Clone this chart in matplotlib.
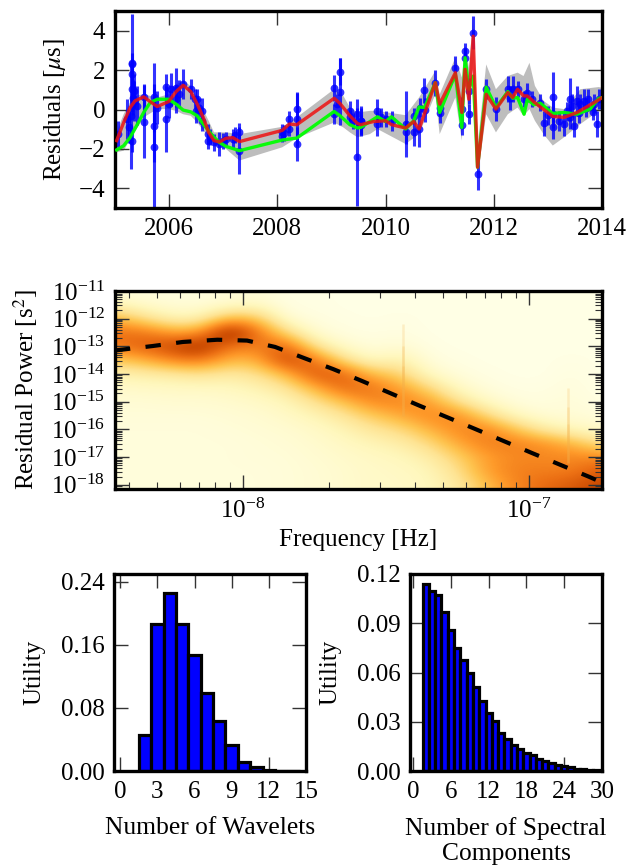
import numpy as np
import matplotlib
matplotlib.use('Agg')
import matplotlib.pyplot as plt
from matplotlib import ticker

plt.rcParams['font.family'] = ['Liberation Serif', 'DejaVu Serif']
plt.rcParams['mathtext.fontset'] = 'stix'
plt.rcParams['font.size'] = 18

# --- residuals panel ---
toa_year = [2005.05,2005.22,2005.30,2005.31,2005.31,2005.31,2005.32,2005.32,2005.36,2005.36,2005.53,2005.53,
            2005.72,2005.72,2005.72,2005.77,2005.94,2005.94,2005.99,2006.03,2006.13,2006.13,2006.26,2006.40,
            2006.48,2006.50,2006.52,2006.60,2006.60,2006.71,2006.71,2006.83,2006.93,2007.05,2007.18,2007.30,2007.30,
            2008.09,2008.09,2008.22,2008.22,2008.36,2008.36,2008.36,2009.05,2009.05,2009.16,2009.16,2009.34,2009.34,
            2009.48,2009.48,2009.54,
            2009.54,2009.54,2009.85,2009.85,2009.92,2010.00,2010.11,2010.37,2010.37,2010.52,2010.52,2010.62,2010.63,
            2010.71,2010.72,2010.92,2011.00,2011.00,2011.29,2011.41,2011.41,2011.47,2011.47,2011.54,2011.54,2011.62,
            2011.70,2011.86,2012.04,2012.26,2012.35,2012.44,2012.55,2012.62,2012.86,2012.92,2013.09,2013.09,2013.09,
            2013.30,2013.40,2013.40,2013.48,2013.54,2013.60,2013.67,2013.75,2013.83,2013.91,2013.94,
            2012.30,2012.70,2013.00,2013.20,2013.35,2013.45,2013.58,2013.70,2013.86,
            2005.26,2005.34,2005.40,2006.18,2006.55,2006.75,2007.00,2007.22,2008.13,2009.10,2009.40]
toa_resid = [-1.25,-0.49,-0.32,2.37,2.29,1.78,1.03,-1.58,0.94,0.44,0.61,-0.62,
             0.61,-0.82,-1.92,0.10,1.14,-0.49,0.27,1.03,1.11,0.52,1.31,1.03,
             0.52,-0.07,0.52,-0.07,-0.57,-1.25,-1.58,-1.67,-1.75,-1.50,-1.50,-1.16,-2.09,
             -1.16,-1.33,-0.49,-0.99,0.05,-0.49,-1.75,1.08,-0.24,1.92,0.91,-0.07,-0.40,
             -2.42,-0.24,-0.57,
             -0.57,-0.77,-0.07,-0.74,-0.40,-0.49,-0.57,-0.74,-1.16,-0.32,-1.16,-0.99,0.10,
             0.98,-0.03,1.36,-0.20,0.10,2.12,0.02,-0.77,2.96,2.63,0.94,-0.24,3.89,
             -3.27,1.03,0.02,1.03,1.03,1.03,0.52,0.86,0.35,-0.71,0.64,-0.91,-0.24,
             -0.74,0.52,-0.40,-0.82,0.44,0.27,0.44,0.52,-0.15,-0.74,0.52,
             0.60,0.55,-0.30,-0.60,-0.10,0.20,-0.20,0.10,0.30,
             -0.90,0.60,0.20,0.80,0.10,-1.40,-1.60,-1.30,-1.20,0.30,-0.60]
toa_err = [0.67,1.00,2.70,2.50,0.60,0.80,0.90,0.60,0.84,1.00,0.67,1.85,
           1.75,1.85,3.20,0.84,0.67,1.68,0.70,0.84,1.00,0.70,0.76,0.50,
           0.50,0.60,0.50,0.67,0.50,0.50,0.42,0.42,0.59,0.34,0.50,0.50,1.18,
           0.42,0.30,0.42,0.34,0.84,1.35,0.84,0.67,0.50,0.67,1.68,0.50,0.40,
           2.50,0.76,0.67,
           0.76,0.50,0.59,0.60,0.50,0.42,0.50,1.68,0.60,0.40,0.67,0.93,0.50,
           0.64,0.60,0.67,0.50,0.40,0.59,0.60,0.50,0.42,0.42,0.67,0.50,0.84,
           0.84,0.50,0.59,0.67,0.67,0.42,0.40,0.50,0.42,0.64,1.26,0.59,0.70,
           0.59,1.09,0.60,0.59,0.76,0.50,0.59,0.50,0.40,0.67,0.50,
           0.60,0.40,0.50,0.50,0.50,0.60,0.50,0.50,0.50,
           0.80,0.90,1.00,0.70,0.50,0.40,0.40,0.40,0.40,0.50,0.40]

band_year = [2005.03,2005.16,2005.34,2005.53,2005.78,2005.99,2006.13,2006.26,2006.40,2006.52,2006.73,2006.83,
             2007.05,2007.30,2008.09,2008.36,2009.05,2009.22,2009.34,2009.48,2009.71,2009.85,2010.37,2010.62,
             2010.92,2011.00,2011.29,2011.41,2011.47,2011.54,2011.62,2011.70,2011.86,2012.04,2012.26,2012.44,
             2012.55,2012.66,2012.76,2012.92,2013.09,2013.30,2013.60,2013.94,2014.0]
band_upper = [-1.16,-0.24,0.69,0.77,0.61,0.77,1.28,1.45,1.20,0.61,-0.57,-1.16,
              -1.16,-1.25,-0.88,-0.40,1.03,0.69,0.10,-0.15,-0.07,-0.07,-0.29,0.61,
              1.95,0.77,2.63,1.62,3.30,2.12,4.73,-1.92,2.29,1.03,1.70,1.87,
              1.70,2.37,1.20,0.44,0.10,0.02,1.03,1.14,1.10]
band_lower = [-2.17,-2.09,-1.25,-0.40,0.02,0.02,-0.07,-0.24,-0.32,-0.66,-1.41,-1.75,
              -2.00,-2.59,-1.92,-1.45,-0.66,-0.91,-1.16,-1.41,-1.25,-0.99,-1.75,-1.25,
              0.77,-1.25,0.61,-1.58,1.45,-0.40,2.54,-3.43,-0.24,-1.16,-0.24,0.10,
              -0.32,0.02,-0.57,-1.25,-1.83,-1.41,-0.74,-0.07,0.00]

red_year = [2005.03,2005.16,2005.28,2005.37,2005.53,2005.65,2005.78,2005.99,2006.13,2006.26,2006.40,2006.52,
            2006.63,2006.73,2006.83,2006.93,2007.05,2007.18,2007.30,2008.09,2008.22,2008.36,2009.05,2009.16,
            2009.34,2009.48,2009.54,2009.78,2010.00,2010.11,2010.37,2010.52,2010.62,2010.92,2011.00,2011.29,
            2011.41,2011.47,2011.54,2011.62,2011.70,2011.86,2012.04,2012.26,2012.35,2012.44,2012.55,2012.62,
            2012.74,2012.86,2013.09,2013.30,2013.54,2013.91,2014.0]
red_val = [-1.58,-0.66,0.10,0.44,0.64,0.40,0.15,0.40,0.91,1.23,0.91,0.27,
           -0.40,-1.16,-1.58,-1.65,-1.46,-1.43,-1.63,-1.06,-0.74,-0.77,0.57,0.30,
           -0.32,-0.71,-0.77,-0.61,-0.57,-0.77,-0.94,-0.61,-0.99,1.36,0.27,1.87,
           -0.15,2.04,0.52,3.72,-2.93,0.77,0.02,0.86,0.61,1.03,0.69,0.69,
           0.39,0.13,-0.35,-0.40,-0.15,0.44,0.60]

green_year = [2005.03,2005.16,2005.28,2005.40,2005.53,2005.65,2005.78,2005.99,2006.13,2006.26,2006.40,2006.52,
              2006.63,2006.73,2006.83,2006.93,2007.05,2007.30,2008.09,2008.36,2009.05,2009.16,2009.34,2009.48,
              2009.54,2009.85,2010.00,2010.11,2010.37,2010.52,2010.62,2010.72,2010.92,2011.00,2011.29,2011.41,
              2011.47,2011.54,2011.62,2011.70,2011.86,2012.04,2012.26,2012.35,2012.44,2012.56,2012.62,2012.74,
              2012.86,2013.09,2013.30,2013.54,2013.78,2013.94,2014.0]
green_val = [-2.05,-1.84,-1.41,-0.82,-0.15,0.35,0.52,0.52,0.27,-0.03,-0.12,-0.32,
             -0.74,-1.08,-1.41,-1.67,-1.87,-2.09,-1.55,-1.45,-0.10,-0.32,-0.77,-0.94,
             -0.91,-0.37,-0.61,-0.37,-0.99,-0.57,0.13,0.10,1.36,-0.15,1.78,-0.91,
             2.63,1.03,1.70,-2.93,1.14,0.10,0.91,0.57,0.61,-0.24,0.52,0.24,
             0.32,-0.20,-0.15,-0.24,0.02,0.57,0.60]

# --- spectrum panel: one list per frequency column, from 1e-11 down to 1e-18 in half decades ---
psd_logf = [-8.45,-8.35,-8.25,-8.15,-8.05,-7.95,-7.85,-7.75,-7.65,-7.55,-7.45,-7.35,-7.25,-7.15,-7.05,-6.95,-6.85,-6.75]
psd_logp = [-11.0,-11.5,-12.0,-12.5,-13.0,-13.5,-14.0,-14.5,-15.0,-15.5,-16.0,-16.5,-17.0,-17.5,-18.0]
psd_columns = [
 [.03,.15,.42,.62,.60,.35,.15,.08,.05,.04,.03,.03,.03,.03,.03],
 [.02,.08,.28,.62,.68,.42,.18,.09,.05,.04,.03,.03,.03,.03,.03],
 [.02,.05,.15,.48,.78,.55,.20,.10,.06,.04,.03,.03,.03,.03,.03],
 [.02,.04,.16,.50,.90,.60,.25,.10,.06,.04,.03,.03,.03,.03,.03],
 [.03,.08,.42,.97,.60,.42,.20,.11,.07,.05,.04,.03,.03,.03,.03],
 [.04,.10,.38,.62,.58,.42,.25,.15,.09,.06,.05,.04,.04,.03,.03],
 [.01,.01,.06,.30,.68,.80,.40,.22,.13,.09,.06,.05,.04,.04,.04],
 [.01,.01,.02,.06,.25,.62,.72,.42,.24,.14,.09,.07,.06,.05,.05],
 [.00,.00,.01,.02,.08,.28,.68,.65,.38,.22,.14,.10,.08,.07,.07],
 [.00,.00,.00,.01,.03,.10,.40,.62,.55,.35,.22,.14,.10,.09,.09],
 [.00,.00,.01,.02,.06,.18,.32,.48,.56,.45,.28,.18,.12,.10,.09],
 [.00,.00,.00,.00,.01,.03,.10,.30,.50,.55,.42,.28,.18,.13,.12],
 [.00,.00,.00,.00,.00,.01,.03,.10,.25,.55,.55,.45,.32,.25,.20],
 [.00,.00,.00,.00,.00,.00,.01,.03,.10,.30,.58,.58,.48,.48,.38],
 [.00,.00,.00,.00,.00,.00,.00,.01,.03,.12,.38,.58,.55,.58,.55],
 [.00,.00,.00,.00,.00,.00,.00,.01,.02,.05,.20,.52,.55,.58,.65],
 [.00,.00,.00,.00,.00,.01,.02,.03,.04,.05,.12,.42,.55,.58,.70],
 [.00,.00,.00,.00,.00,.00,.00,.00,.01,.03,.08,.25,.55,.70,.78],
]
spike_logf = [-7.44, -7.44, -7.44, -6.865, -6.865, -6.865]
spike_top = [-12.2, -13.0, -13.7, -14.5, -15.2, -15.8]
spike_bottom = [-15.5, -15.5, -15.5, -17.2, -17.2, -17.2]
model_logf = [-8.448,-8.315,-8.21,-8.09,-7.986,-7.888,-7.787,-7.685,-7.584,-7.388,-7.189,-6.99,-6.79,-6.748]
model_logp = [-13.148,-12.986,-12.84,-12.76,-12.79,-13.02,-13.42,-13.82,-14.25,-15.12,-15.98,-16.85,-17.71,-17.90]

# --- histograms ---
wavelet_n = list(range(2, 15))
wavelet_util = [.0456,.186,.226,.187,.147,.099,.063,.0325,.0114,.0046,.0013,.0005,.0002]
spectral_n = list(range(2, 31))
spectral_util = [.1137,.1095,.107,.0969,.0861,.075,.0675,.0594,.0513,.0428,.0355,.0302,.0233,.0195,.0158,
                 .0132,.0111,.0095,.0075,.0059,.0047,.0036,.0028,.0022,.0014,.001,.0008,.0005,.0003]

W, H = 628, 867
fig = plt.figure(figsize=(W/100, H/100), dpi=100)

def box(l, t, r, b):
    return fig.add_axes([l/W, 1-b/H, (r-l)/W, (b-t)/H])

def style(ax, major=10):
    for s in ax.spines.values():
        s.set_linewidth(2.4)
    ax.tick_params(which='major', direction='in', top=True, right=True, length=major,
                   width=1.0, color='#333333', labelsize=18, pad=7)
    ax.tick_params(which='minor', direction='in', top=True, right=True, length=major/2,
                   width=0.8, color='#333333')

# top
ax = box(115, 11, 602, 208)
style(ax)
ax.fill(np.r_[band_year, band_year[::-1]], np.r_[band_upper, band_lower[::-1]],
        color='#bdbdbd', lw=0, zorder=1)
ax.errorbar(toa_year, toa_resid, yerr=toa_err, fmt='o', color='#0000ff', ms=5.6, mew=0,
            elinewidth=2.2, alpha=0.8, zorder=2)
ax.plot(green_year, green_val, color='#00ff00', lw=2.4, alpha=0.95, zorder=3)
ax.plot(red_year, red_val, color='#ee1111', lw=2.4, alpha=0.85, zorder=4)
ax.set_xlim(2005, 2014)
ax.set_ylim(-5, 5)
ax.set_xticks([2006, 2008, 2010, 2012, 2014])
ax.set_yticks([-4, -2, 0, 2, 4])
ax.set_yticklabels(['\u22124', '\u22122', '0', '2', '4'])
ax.set_ylabel(r'Residuals [$\mu$s]', fontsize=18, labelpad=8)

# middle: density drawn on a linear log10 axes under the log axes
xmin, xmax = -8.4476, -6.745
ymin, ymax = -18.15, -11.0
under = box(115, 291, 602, 489)
density = np.array(psd_columns).T
dx = (psd_logf[1] - psd_logf[0]) / 2
dy = (psd_logp[0] - psd_logp[1]) / 2
under.imshow(density, cmap='YlOrBr', vmin=0, vmax=1, aspect='auto', interpolation='bicubic',
             extent=[psd_logf[0]-dx, psd_logf[-1]+dx, psd_logp[-1]-dy, psd_logp[0]+dy])
for f, t, b in zip(spike_logf, spike_top, spike_bottom):
    under.plot([f, f], [t, b], color='#f5b04a', lw=1.8, alpha=0.2, solid_capstyle='butt')
under.set_xlim(xmin, xmax)
under.set_ylim(ymin, ymax)
under.axis('off')

ax = box(115, 291, 602, 489)
ax.patch.set_visible(False)
style(ax)
ax.plot(10.0**np.array(model_logf), 10.0**np.array(model_logp), color='k', lw=3,
        dashes=(3.7, 3.7), dash_capstyle='butt', zorder=3)
ax.set_xscale('log')
ax.set_yscale('log')
ax.set_xlim(10**xmin, 10**xmax)
ax.set_ylim(10**ymin, 10**ymax)
ax.set_yticks([10.0**e for e in range(-18, -10)])
ax.yaxis.set_minor_locator(ticker.LogLocator(base=10, subs=tuple(range(2, 10)), numticks=30))
ax.yaxis.set_minor_formatter(ticker.NullFormatter())
ax.xaxis.set_minor_formatter(ticker.NullFormatter())
ax.set_xlabel('Frequency [Hz]', fontsize=18, labelpad=4)
ax.set_ylabel(r'Residual Power [s$^2$]', fontsize=18, labelpad=8)

# bottom left
ax = box(114, 574, 306, 771)
style(ax)
ax.bar(wavelet_n, wavelet_util, width=1.0, color='#0000ff', edgecolor='k', linewidth=2.3, zorder=2)
ax.set_xlim(-0.5, 15)
ax.set_ylim(0, 0.25)
ax.set_xticks([0, 3, 6, 9, 12, 15])
ax.set_yticks([0, .08, .16, .24])
ax.set_yticklabels(['0.00', '0.08', '0.16', '0.24'])
ax.set_xlabel('Number of Wavelets', fontsize=18.4, labelpad=10)
ax.set_ylabel('Utility', fontsize=18, labelpad=11)

# bottom right
ax = box(410, 574, 602, 771)
style(ax)
ax.bar(spectral_n, spectral_util, width=1.0, color='#0000ff', edgecolor='k', linewidth=2.3, zorder=2)
ax.set_xlim(-0.5, 30)
ax.set_ylim(0, 0.12)
ax.set_xticks([0, 6, 12, 18, 24, 30])
ax.set_yticks([0, .03, .06, .09, .12])
ax.set_yticklabels(['0.00', '0.03', '0.06', '0.09', '0.12'])
ax.set_xlabel('Number of Spectral\nComponents', fontsize=18.4, labelpad=10, linespacing=1.18)
ax.set_ylabel('Utility', fontsize=18, labelpad=11)

fig.savefig('out.png', dpi=100)
